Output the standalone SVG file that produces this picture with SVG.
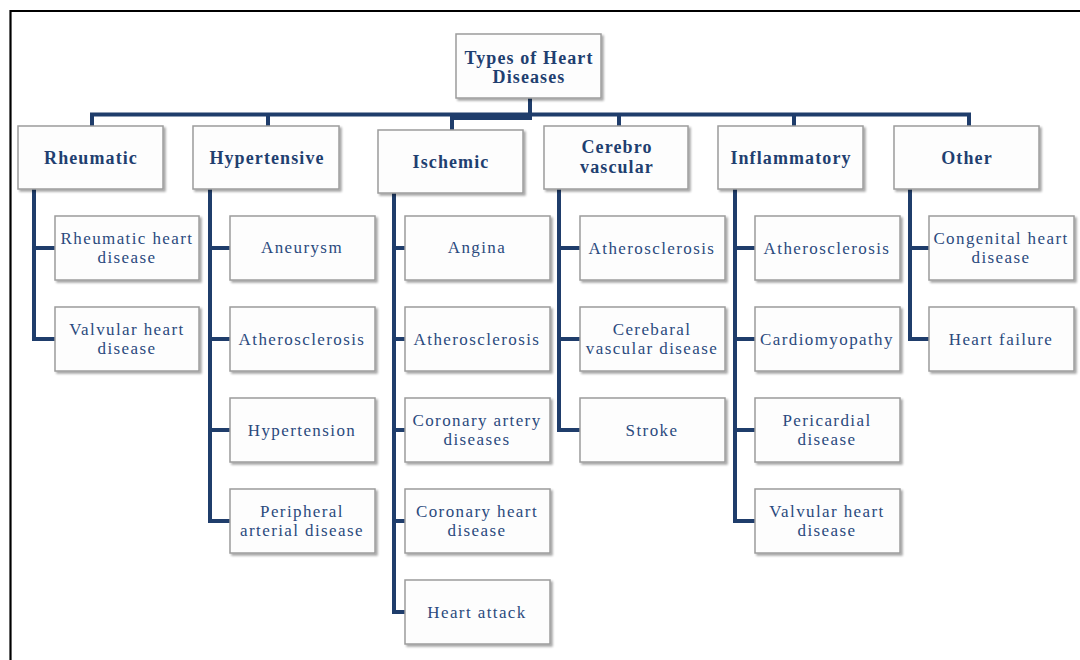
<svg xmlns="http://www.w3.org/2000/svg" width="1080" height="660" viewBox="0 0 1080 660">
<defs>
<filter id="sh" x="-10%" y="-10%" width="130%" height="140%">
<feDropShadow dx="2" dy="2" stdDeviation="1.2" flood-color="#000" flood-opacity="0.35"/>
</filter>
</defs>
<style>
.box{fill:#fdfdfd;stroke:#9c9c9c;stroke-width:1.5;filter:url(#sh)}
.h{font-family:"Liberation Serif","Times New Roman",serif;font-weight:bold;font-size:18px;letter-spacing:1.1px;fill:#1f3f70;text-anchor:middle}
.c{font-family:"Liberation Serif","Times New Roman",serif;font-size:17px;letter-spacing:1.4px;fill:#2b4a7d;text-anchor:middle}
.ln{fill:none;stroke:#1f3d6b;stroke-width:4;stroke-linejoin:miter}
.frame{fill:none;stroke:#000;stroke-width:2.2}
</style>
<rect width="1080" height="660" fill="#fff"/>
<path class="frame" d="M10.5,662 V11 H1082"/>

<g id="connectors">
<path class="ln" d="M92,126 V114.5 H969 V126"/>
<path class="ln" d="M530,98 V118 H452 V130"/>
<path class="ln" d="M268,114.5 V126"/>
<path class="ln" d="M619,114.5 V126"/>
<path class="ln" d="M794,114.5 V126"/>
<path class="ln" d="M34,189 V339 H55 M34,248 H55"/>
<path class="ln" d="M210,189 V521 H230 M210,248 H230 M210,339 H230 M210,430 H230"/>
<path class="ln" d="M394,193 V612 H405 M394,248 H405 M394,339 H405 M394,430 H405 M394,521 H405"/>
<path class="ln" d="M559,189 V430 H580 M559,248 H580 M559,339 H580"/>
<path class="ln" d="M735,189 V521 H755 M735,248 H755 M735,339 H755 M735,430 H755"/>
<path class="ln" d="M910,189 V339 H929 M910,248 H929"/>
</g>

<g id="root"><rect class="box" x="456" y="34" width="145" height="64"/><text class="h" x="529" y="64">Types of Heart</text><text class="h" x="529" y="83">Diseases</text></g>

<g id="rheumatic"><rect class="box" x="18" y="126" width="145" height="63"/><text class="h" x="91" y="164">Rheumatic</text></g>
<g id="hypertensive"><rect class="box" x="193" y="126" width="146" height="63"/><text class="h" x="267" y="164">Hypertensive</text></g>
<g id="ischemic"><rect class="box" x="378" y="130" width="145" height="63"/><text class="h" x="451" y="168">Ischemic</text></g>
<g id="cerebro"><rect class="box" x="544" y="126" width="144" height="63"/><text class="h" x="617" y="153">Cerebro</text><text class="h" x="617" y="173">vascular</text></g>
<g id="inflammatory"><rect class="box" x="718" y="126" width="145" height="63"/><text class="h" x="791" y="164">Inflammatory</text></g>
<g id="other"><rect class="box" x="894" y="126" width="145" height="63"/><text class="h" x="967" y="164">Other</text></g>

<g id="rheumatic-heart-disease"><rect class="box" x="55" y="216" width="144" height="64"/><text class="c" x="127" y="244">Rheumatic heart</text><text class="c" x="127" y="263">disease</text></g>
<g id="valvular-heart-disease-1"><rect class="box" x="55" y="307" width="144" height="64"/><text class="c" x="127" y="335">Valvular heart</text><text class="c" x="127" y="354">disease</text></g>

<g id="aneurysm"><rect class="box" x="230" y="216" width="145" height="64"/><text class="c" x="302" y="253">Aneurysm</text></g>
<g id="atherosclerosis-1"><rect class="box" x="230" y="307" width="145" height="64"/><text class="c" x="302" y="345">Atherosclerosis</text></g>
<g id="hypertension"><rect class="box" x="230" y="398" width="145" height="64"/><text class="c" x="302" y="436">Hypertension</text></g>
<g id="peripheral"><rect class="box" x="230" y="489" width="145" height="64"/><text class="c" x="302" y="517">Peripheral</text><text class="c" x="302" y="536">arterial disease</text></g>

<g id="angina"><rect class="box" x="405" y="216" width="145" height="64"/><text class="c" x="477" y="253">Angina</text></g>
<g id="atherosclerosis-2"><rect class="box" x="405" y="307" width="145" height="64"/><text class="c" x="477" y="345">Atherosclerosis</text></g>
<g id="coronary-artery"><rect class="box" x="405" y="398" width="145" height="64"/><text class="c" x="477" y="426">Coronary artery</text><text class="c" x="477" y="445">diseases</text></g>
<g id="coronary-heart"><rect class="box" x="405" y="489" width="145" height="64"/><text class="c" x="477" y="517">Coronary heart</text><text class="c" x="477" y="536">disease</text></g>
<g id="heart-attack"><rect class="box" x="405" y="580" width="145" height="64"/><text class="c" x="477" y="618">Heart attack</text></g>

<g id="atherosclerosis-3"><rect class="box" x="580" y="216" width="145" height="64"/><text class="c" x="652" y="254">Atherosclerosis</text></g>
<g id="cerebaral"><rect class="box" x="580" y="307" width="145" height="64"/><text class="c" x="652" y="335">Cerebaral</text><text class="c" x="652" y="354">vascular disease</text></g>
<g id="stroke"><rect class="box" x="580" y="398" width="145" height="64"/><text class="c" x="652" y="436">Stroke</text></g>

<g id="atherosclerosis-4"><rect class="box" x="755" y="216" width="145" height="64"/><text class="c" x="827" y="254">Atherosclerosis</text></g>
<g id="cardiomyopathy"><rect class="box" x="755" y="307" width="145" height="64"/><text class="c" x="827" y="345">Cardiomyopathy</text></g>
<g id="pericardial"><rect class="box" x="755" y="398" width="145" height="64"/><text class="c" x="827" y="426">Pericardial</text><text class="c" x="827" y="445">disease</text></g>
<g id="valvular-heart-disease-2"><rect class="box" x="755" y="489" width="145" height="64"/><text class="c" x="827" y="517">Valvular heart</text><text class="c" x="827" y="536">disease</text></g>

<g id="congenital"><rect class="box" x="929" y="216" width="145" height="64"/><text class="c" x="1001" y="244">Congenital heart</text><text class="c" x="1001" y="263">disease</text></g>
<g id="heart-failure"><rect class="box" x="929" y="307" width="145" height="64"/><text class="c" x="1001" y="345">Heart failure</text></g>
</svg>
